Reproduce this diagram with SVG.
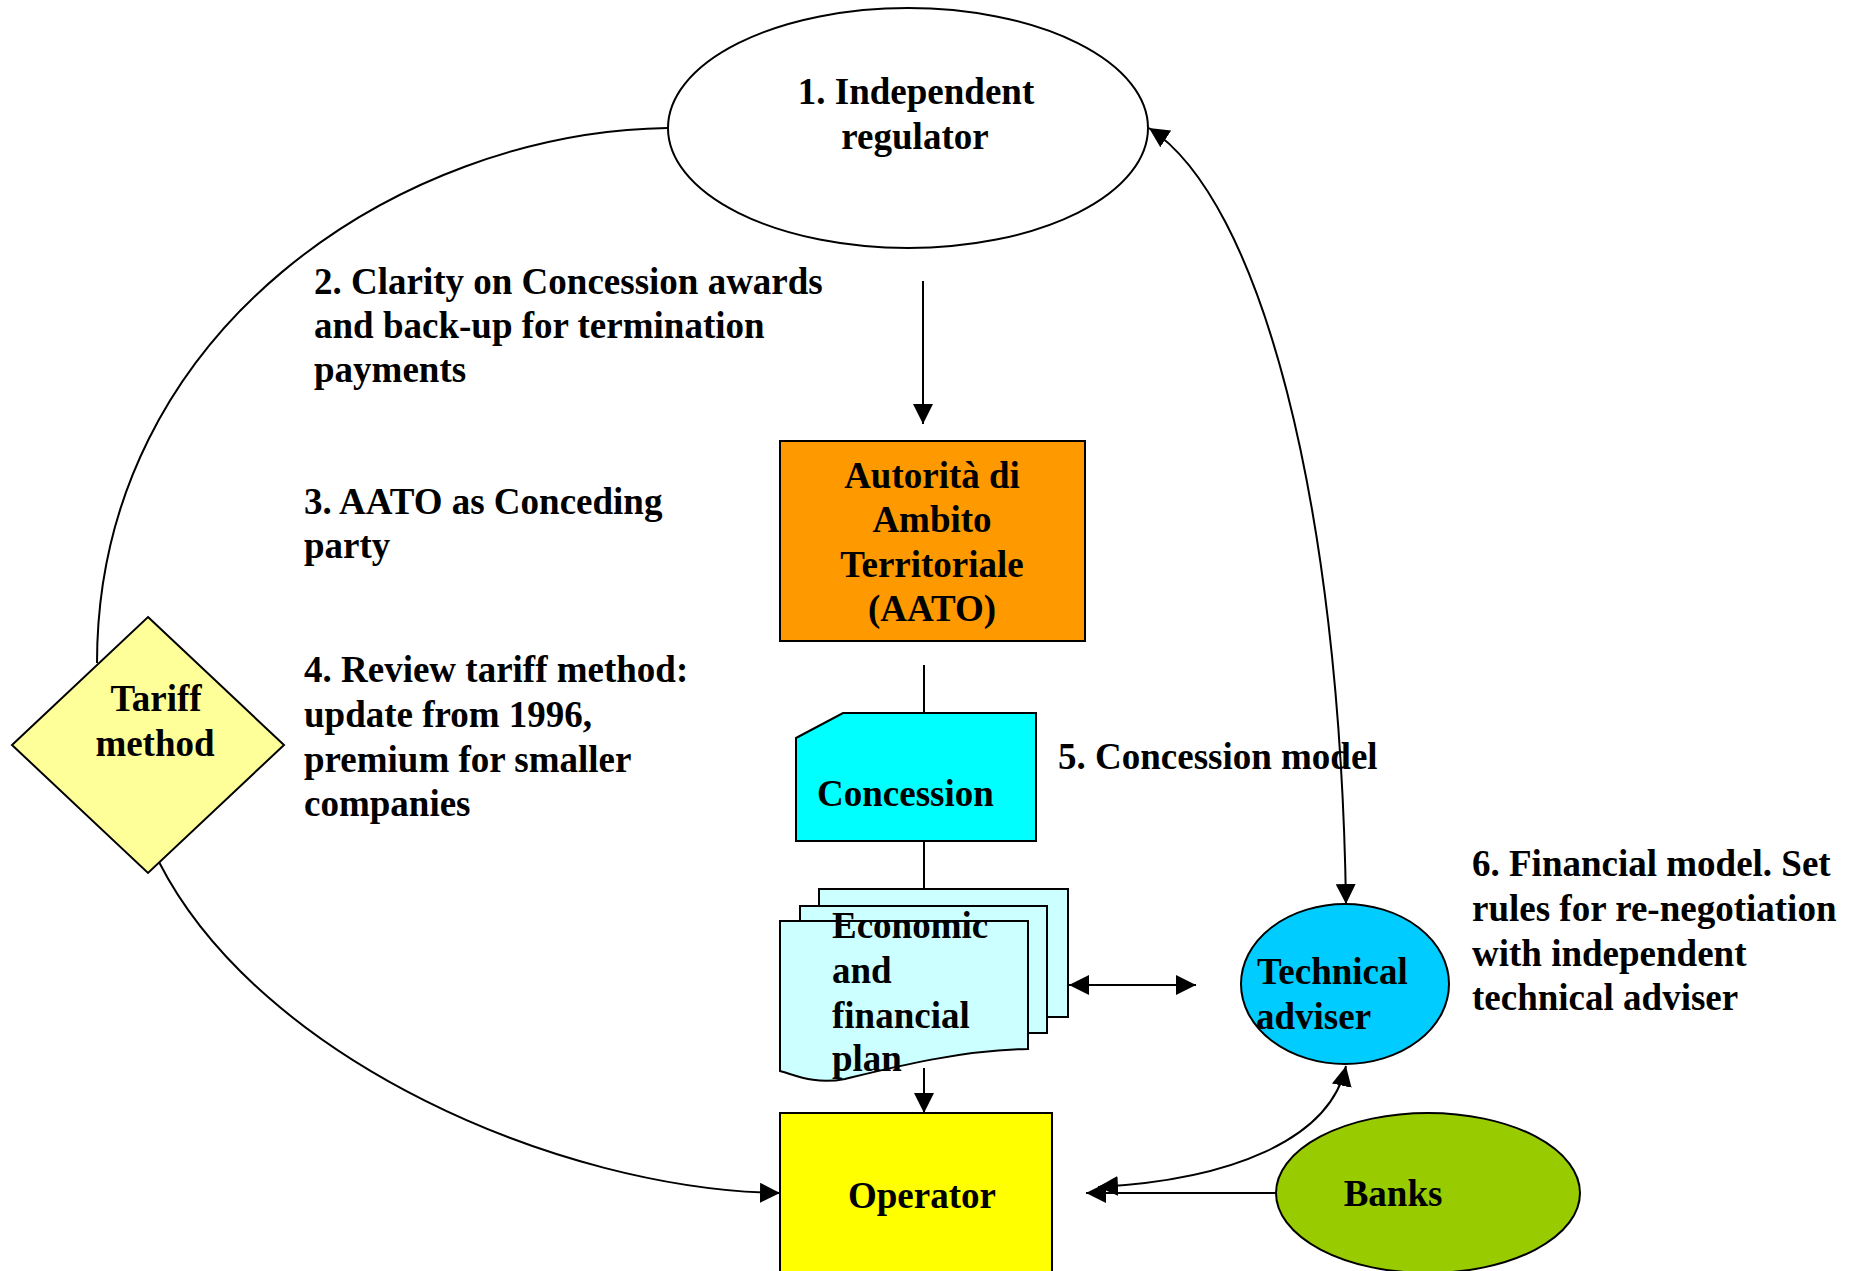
<svg xmlns="http://www.w3.org/2000/svg" width="1861" height="1271" viewBox="0 0 1861 1271">
<defs>
<marker id="arr" viewBox="0 0 20 20" refX="20" refY="10" markerWidth="20" markerHeight="20" markerUnits="userSpaceOnUse" orient="auto-start-reverse">
<path d="M0,0 L20,10 L0,20 z" fill="#000"/>
</marker>
</defs>
<style>
text{font-family:"Liberation Serif","Times New Roman",serif;font-weight:bold;font-size:37px;fill:#000}
.c{text-anchor:middle}
.shape{stroke:#000;stroke-width:2}
.conn{fill:none;stroke:#000;stroke-width:2}
</style>
<rect width="1861" height="1271" fill="#fff"/>

<g id="connectors">
<path class="conn" d="M667,128 C400,132 97,330 97,663"/>
<path class="conn" d="M159,862 C260,1060 560,1190 780,1193" marker-end="url(#arr)"/>
<line class="conn" x1="923" y1="281" x2="923" y2="424" marker-end="url(#arr)"/>
<line class="conn" x1="924" y1="665" x2="924" y2="713"/>
<line class="conn" x1="924" y1="841" x2="924" y2="889"/>
<line class="conn" x1="924" y1="1068" x2="924" y2="1113" marker-end="url(#arr)"/>
<path class="conn" d="M1149,128 C1260,200 1340,500 1346,904" marker-start="url(#arr)" marker-end="url(#arr)"/>
<line class="conn" x1="1069" y1="985" x2="1196" y2="985" marker-start="url(#arr)" marker-end="url(#arr)"/>
<path class="conn" d="M1346,1066 C1330,1140 1230,1180 1098,1187" marker-start="url(#arr)" marker-end="url(#arr)"/>
<line class="conn" x1="1276" y1="1193" x2="1086" y2="1193" marker-end="url(#arr)"/>
</g>

<g id="regulator">
<ellipse class="shape" cx="908" cy="128" rx="240" ry="120" fill="#fff"/>
<text class="c" x="916" y="104">1. Independent</text>
<text class="c" x="915" y="149">regulator</text>
</g>

<g id="label2">
<text x="314" y="294">2. Clarity on Concession awards</text>
<text x="314" y="338">and back-up for termination</text>
<text x="314" y="382">payments</text>
</g>

<g id="label3">
<text x="304" y="514">3. AATO as Conceding</text>
<text x="304" y="558">party</text>
</g>

<g id="label4">
<text x="304" y="682">4. Review tariff method:</text>
<text x="304" y="727">update from 1996,</text>
<text x="304" y="772">premium for smaller</text>
<text x="304" y="816">companies</text>
</g>

<g id="aato">
<rect class="shape" x="780" y="441" width="305" height="200" fill="#FF9900"/>
<text class="c" x="932" y="488">Autorità di</text>
<text class="c" x="932" y="532">Ambito</text>
<text class="c" x="932" y="577">Territoriale</text>
<text class="c" x="932" y="621">(AATO)</text>
</g>

<g id="concession">
<path class="shape" d="M796,738 L843,713 L1036,713 L1036,841 L796,841 Z" fill="#00FFFF"/>
<text x="817" y="806">Concession</text>
</g>

<g id="label5">
<text x="1058" y="769">5. Concession model</text>
</g>

<g id="plan">
<rect class="shape" x="819" y="889" width="249" height="128" fill="#CCFFFF"/>
<rect class="shape" x="800" y="906" width="247" height="127" fill="#CCFFFF"/>
<path class="shape" d="M780,921 L1028,921 L1028,1049 C960,1050 890,1068 845,1079 C815,1085 795,1075 780,1071 Z" fill="#CCFFFF"/>
<text x="832" y="938">Economic</text>
<text x="832" y="983">and</text>
<text x="832" y="1028">financial</text>
<text x="832" y="1071">plan</text>
</g>

<g id="technical-adviser">
<ellipse class="shape" cx="1345" cy="984" rx="104" ry="80" fill="#00CCFF"/>
<text x="1257" y="984">Technical</text>
<text x="1256" y="1029">adviser</text>
</g>

<g id="label6">
<text x="1472" y="876">6. Financial model. Set</text>
<text x="1472" y="921">rules for re-negotiation</text>
<text x="1472" y="966">with independent</text>
<text x="1472" y="1010">technical adviser</text>
</g>

<g id="tariff">
<polygon class="shape" points="148,617 284,745 148,873 12,745" fill="#FFFF99"/>
<text class="c" x="156" y="711">Tariff</text>
<text class="c" x="155" y="756">method</text>
</g>

<g id="operator">
<rect class="shape" x="780" y="1113" width="272" height="170" fill="#FFFF00"/>
<text class="c" x="922" y="1208">Operator</text>
</g>

<g id="banks">
<ellipse class="shape" cx="1428" cy="1193" rx="152" ry="80" fill="#99CC00"/>
<text class="c" x="1393" y="1206">Banks</text>
</g>
</svg>
